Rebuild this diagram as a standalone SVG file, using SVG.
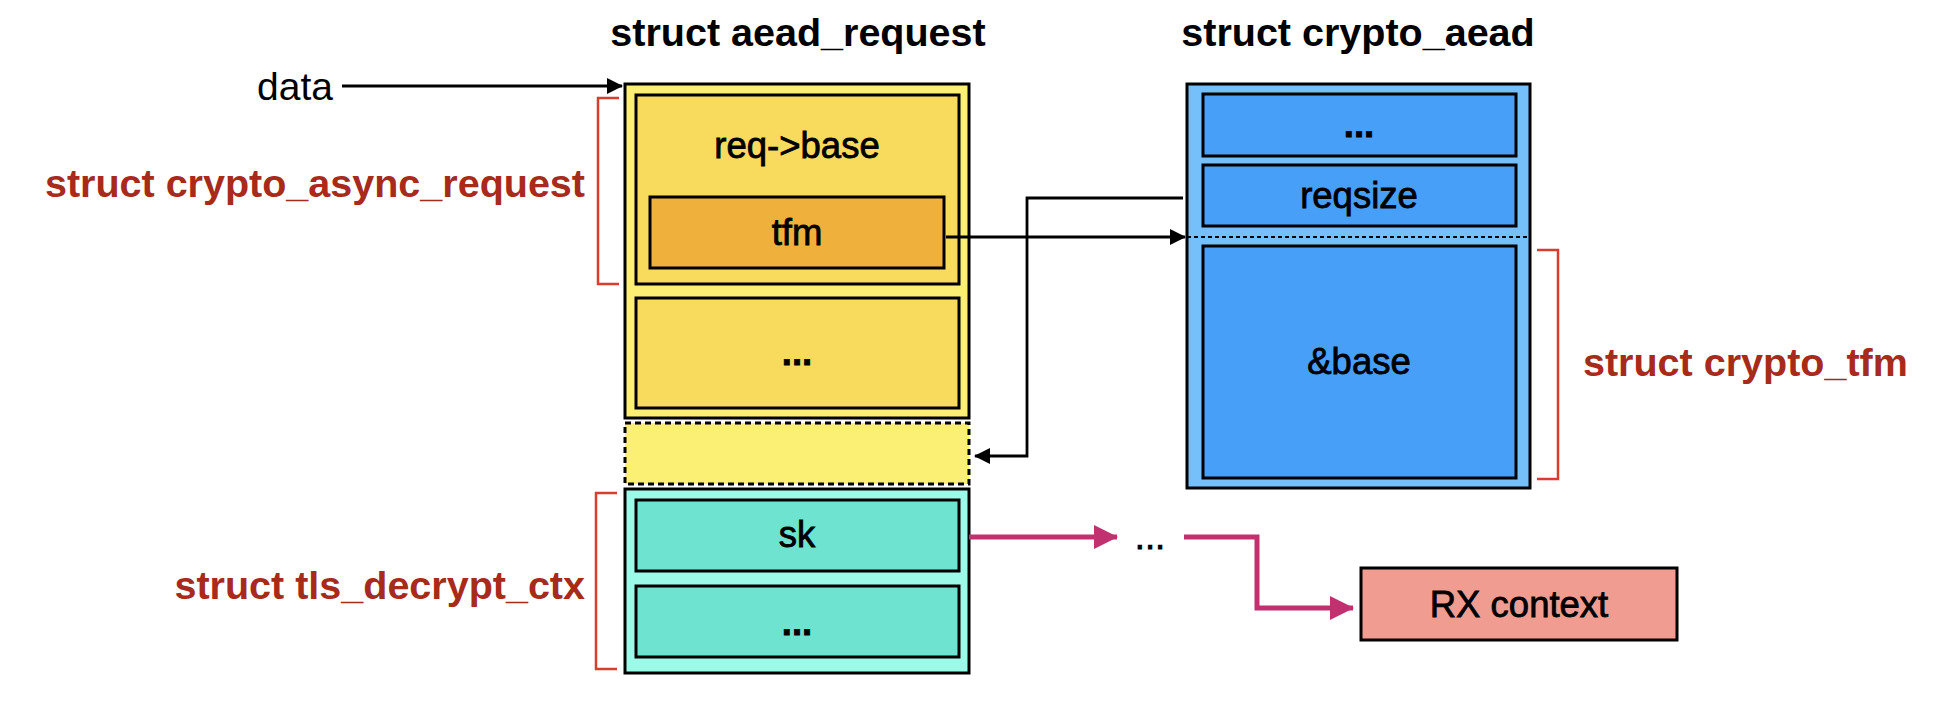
<svg xmlns="http://www.w3.org/2000/svg" width="1952" height="706" viewBox="0 0 1952 706">
<defs>
<style>
.title{font-family:"Liberation Sans",Arial,sans-serif;font-weight:bold;font-size:39.5px;fill:#000}
.red{font-family:"Liberation Sans",Arial,sans-serif;font-weight:bold;font-size:39.5px;fill:#A82A1A}
.lbl{font-family:"Liberation Sans",Arial,sans-serif;font-size:36.5px;fill:#000;stroke:#000;stroke-width:0.8;text-anchor:middle}
.dots{font-weight:bold}
.plain{font-family:"Liberation Sans",Arial,sans-serif;font-size:39px;fill:#000}
.box{stroke:#000;stroke-width:3}
.ylo{fill:#FCEF74}
.yli{fill:#F8DB5C}
.tfm{fill:#F0B03C}
.blo{fill:#75BFFA}
.bli{fill:#479FF8}
.tlo{fill:#9CFBE8}
.tli{fill:#6EE3D0}
.rx{fill:#F19C90}
.brk{fill:none;stroke:#D63F2E;stroke-width:2.5}
.conn{fill:none;stroke:#000;stroke-width:2.8}
.mag{fill:none;stroke:#C1306F;stroke-width:5}
</style>
<marker id="ah" markerUnits="userSpaceOnUse" markerWidth="16" markerHeight="16" viewBox="0 0 16 16" refX="15" refY="8" orient="auto">
<path d="M0,0 L16,8 L0,16 Z" fill="#000"/>
</marker>
<marker id="mh" markerUnits="userSpaceOnUse" markerWidth="24" markerHeight="24" viewBox="0 0 24 24" refX="23" refY="12" orient="auto">
<path d="M0,0 L24,12 L0,24 Z" fill="#C1306F"/>
</marker>
</defs>
<rect width="1952" height="706" fill="#fff"/>

<text class="title" x="798" y="46" text-anchor="middle">struct aead_request</text>
<text class="title" x="1358" y="46" text-anchor="middle">struct crypto_aead</text>
<text class="plain" x="257" y="100">data</text>

<g id="aead_request">
<rect class="box ylo" x="625" y="84" width="344" height="334"/>
<g id="req_base">
<rect class="box yli" x="636" y="95" width="323" height="189"/>
<text class="lbl" x="797" y="158">req-&gt;base</text>
</g>
<g id="tfm">
<rect class="box tfm" x="650" y="197" width="294" height="71"/>
<text class="lbl" x="797" y="245">tfm</text>
</g>
<g id="req_rest">
<rect class="box yli" x="636" y="298" width="323" height="110"/>
<text class="lbl dots" x="797" y="365">...</text>
</g>
</g>

<g id="padding">
<rect x="625" y="423" width="344" height="61" fill="#FCF074" stroke="#000" stroke-width="3" stroke-dasharray="6 4"/>
</g>

<g id="tls_decrypt_ctx">
<rect class="box tlo" x="625" y="489" width="344" height="184"/>
<g id="sk">
<rect class="box tli" x="636" y="500" width="323" height="71"/>
<text class="lbl" x="797" y="547">sk</text>
</g>
<g id="ctx_rest">
<rect class="box tli" x="636" y="586" width="323" height="71"/>
<text class="lbl dots" x="797" y="635">...</text>
</g>
</g>

<g id="crypto_aead">
<rect class="box blo" x="1187" y="84" width="343" height="404"/>
<g id="aead_rest">
<rect class="box bli" x="1203" y="94" width="313" height="62"/>
<text class="lbl dots" x="1359" y="137">...</text>
</g>
<g id="reqsize">
<rect class="box bli" x="1203" y="165" width="313" height="61"/>
<text class="lbl" x="1359" y="208">reqsize</text>
</g>
<line x1="1187" y1="237" x2="1530" y2="237" stroke="#000" stroke-width="2" stroke-dasharray="4 3"/>
<g id="base">
<rect class="box bli" x="1203" y="246" width="313" height="232"/>
<text class="lbl" x="1359" y="374">&amp;base</text>
</g>
</g>

<g id="ellipsis">
<text class="lbl" x="1150" y="549" stroke-width="0">...</text>
</g>

<g id="rx_context">
<rect class="box rx" x="1361" y="568" width="316" height="72"/>
<text class="lbl" x="1519" y="617">RX context</text>
</g>

<g id="brackets">
<path class="brk" d="M619,98 H598 V284 H619"/>
<text class="red" x="585" y="197" text-anchor="end">struct crypto_async_request</text>
<path class="brk" d="M617,493 H596 V669 H617"/>
<text class="red" x="585" y="599" text-anchor="end">struct tls_decrypt_ctx</text>
<path class="brk" d="M1537,250 H1558 V479 H1537"/>
<text class="red" x="1583" y="376">struct crypto_tfm</text>
</g>

<g id="connectors">
<line class="conn" x1="342" y1="86" x2="622" y2="86" marker-end="url(#ah)"/>
<line class="conn" x1="946" y1="237" x2="1185" y2="237" marker-end="url(#ah)"/>
<path class="conn" d="M1183,198 H1027 V456 H975" marker-end="url(#ah)"/>
<path class="mag" d="M969,537 H1117" marker-end="url(#mh)"/>
<path class="mag" d="M1184,537 H1257 V608 H1353" marker-end="url(#mh)"/>
</g>
</svg>
